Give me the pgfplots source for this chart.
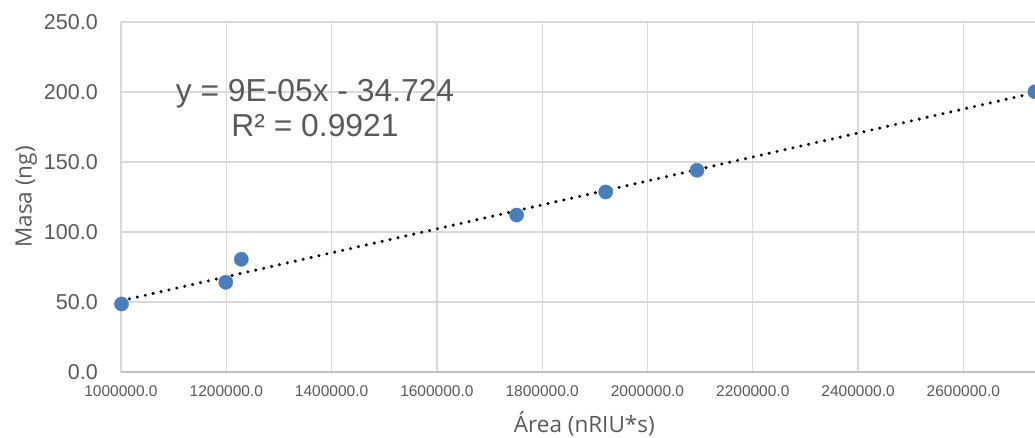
\documentclass[border=0pt]{standalone}
\usepackage{pgfplots}
\pgfplotsset{compat=1.18}
\usepackage{fontspec}
\setmainfont{Liberation Sans}
\newfontfamily\labelfont{Open Sans}
\definecolor{txt}{HTML}{595959}
\definecolor{gridc}{HTML}{D9D9D9}
\definecolor{axc}{HTML}{BFBFBF}
\definecolor{ptc}{RGB}{74,126,187}

\begin{document}
\begin{tikzpicture}
\path[use as bounding box] (-121pt,-65pt) rectangle (914pt,372pt);
\begin{axis}[
  at={(0,0)}, anchor=south west,
  width=926.6pt, height=350pt, scale only axis,
  xmin=1000000, xmax=2760000, ymin=0, ymax=250,
  xtick={1000000,1200000,1400000,1600000,1800000,2000000,2200000,2400000,2600000},
  ytick={0,50,100,150,200,250},
  scaled x ticks=false, scaled y ticks=false,
  axis line style={draw=none},
  major tick length=0pt,
  grid=major,
  major grid style={draw=gridc, line width=1.3pt},
  extra y ticks={0},
  extra y tick labels={},
  extra y tick style={grid=major, major grid style={draw=axc, line width=1.3pt}},
  /pgf/number format/assume math mode=true,
  xticklabel style={/pgf/number format/.cd, fixed, fixed zerofill, precision=1, 1000 sep={}, /tikz/.cd,
    anchor=north, inner sep=0pt, yshift=-13.5pt, text=txt, font=\fontsize{15.5}{16}\selectfont},
  yticklabel style={/pgf/number format/.cd, fixed, fixed zerofill, precision=1, 1000 sep={}, /tikz/.cd,
    anchor=east, inner sep=0pt, xshift=-23pt, text=txt, font=\fontsize{21.5}{22}\selectfont},
  xlabel={Área (nRIU*s)},
  ylabel={Masa (ng)},
  xlabel style={at={([yshift=-60.7pt]axis description cs:0.5,0)}, anchor=base, inner sep=0pt,
    text=txt, font=\labelfont\fontsize{22.5}{24}\selectfont},
  ylabel style={at={([xshift=-89.3pt]axis description cs:0,0.5)}, anchor=base, inner sep=0pt,
    text=txt, font=\labelfont\fontsize{22.5}{24}\selectfont},
]
\addplot[only marks, mark=*, mark size=7.1pt, mark options={fill=ptc, draw=ptc}] coordinates {
  (1001000,48.6) (1199000,64.1) (1228500,80.5) (1751500,112.1)
  (1920600,128.6) (2094000,144.1) (2736000,200.2)
};
\addplot[black, line width=3.4pt, line cap=round, dash pattern=on 0pt off 8.1pt] coordinates {
  (1001000,50.96) (2736000,199.48)
};
\node[align=center, inner sep=0pt, text=txt, font=\fontsize{31.8}{35}\selectfont]
  at (axis cs:1368500,188.2) {y = 9E-05x - 34.724\\R² = 0.9921};
\end{axis}
\end{tikzpicture}
\end{document}
